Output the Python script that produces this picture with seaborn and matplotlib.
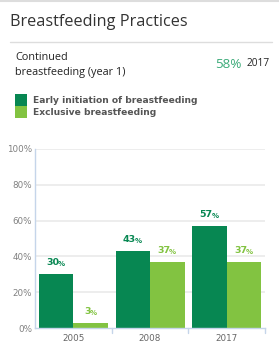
import matplotlib
matplotlib.use("Agg")
import matplotlib.pyplot as plt
import seaborn as sns
import pandas as pd
from matplotlib.patches import Rectangle
from matplotlib.lines import Line2D

years = ["2005", "2008", "2017"]
series = ["Early initiation of breastfeeding", "Exclusive breastfeeding"]
early = [30, 43, 57]
exclusive = [3, 37, 37]
yticks = [0, 20, 40, 60, 80, 100]
title = "Breastfeeding Practices"
ind_label = ["Continued", "breastfeeding (year 1)"]
ind_value = "58%"
ind_year = "2017"

DARK = "#078752"
LIGHT = "#82c341"
colors = [DARK, LIGHT]

df = pd.DataFrame({
    "year": years * 2,
    "value": early + exclusive,
    "series": [series[0]] * 3 + [series[1]] * 3,
})

sns.set_theme(style="white")
plt.rcParams["font.family"] = ["DejaVu Sans"]

W, H = 279, 349
fig = plt.figure(figsize=(W / 100, H / 100), dpi=100)

def fx(px):
    return px / W

def fy(py):
    return 1 - py / H

ax = fig.add_axes([fx(35), fy(328), fx(265) - fx(35), fy(149) - fy(328)])
sns.barplot(data=df, x="year", y="value", hue="series", palette=colors,
            width=0.9, dodge=True, ax=ax, legend=False, saturation=1,
            linewidth=0, edgecolor="none")

ax.set_ylim(0, 100)
ax.set_xlim(-0.5, 2.5)
ax.set_yticks(yticks)
ax.set_yticklabels([f"{v}%" for v in yticks], color="#808080", fontsize=6.3)
ax.set_xticks(range(len(years)))
ax.set_xticklabels(years, color="#666666", fontsize=6.3)
ax.tick_params(axis="y", length=0, pad=2)
ax.tick_params(axis="x", length=0, pad=4)
ax.set_xlabel("")
ax.set_ylabel("")
for y in yticks[1:]:
    ax.axhline(y, color="#ececec", lw=1.3, zorder=0)
for s in ["top", "right"]:
    ax.spines[s].set_visible(False)
for s in ["left", "bottom"]:
    ax.spines[s].set_color("#c5d5ea")
    ax.spines[s].set_linewidth(1.0)
# category boundary ticks
for b in [0.5, 1.5, 2.5]:
    ax.plot([b, b], [0, -3], color="#c5d5ea", lw=1.0, clip_on=False)

# value labels
for cont, vals, col in zip(ax.containers, [early, exclusive], colors):
    for bar, v in zip(cont, vals):
        xc = bar.get_x() + bar.get_width() / 2
        t = ax.annotate(f"{v}", xy=(xc, v), xytext=(-2.3, 5), textcoords="offset points",
                        ha="center", va="bottom", fontsize=6.8, fontweight="bold", color=col)
        ax.annotate("%", xy=(1, 0), xycoords=t, xytext=(-1.0, 0), textcoords="offset points",
                    ha="left", va="bottom", fontsize=5, fontweight="bold", color=col)

# header
fig.add_artist(Line2D([0, 1], [fy(1), fy(1)], color="#dddddd", lw=1.5))
fig.text(fx(10), fy(22), title, fontsize=11.7, color="#333333", family="Open Sans",
         ha="left", va="center")
fig.add_artist(Line2D([fx(10), fx(272)], [fy(42), fy(42)], color="#dddddd", lw=1))
fig.text(fx(15), fy(57), ind_label[0], fontsize=7.8, color="#222222", family="Open Sans",
         ha="left", va="center")
fig.text(fx(15), fy(72), ind_label[1], fontsize=7.8, color="#222222", family="Open Sans",
         ha="left", va="center")
fig.text(fx(241), fy(64), ind_value, fontsize=9.6, color="#3aaa78", family="Open Sans",
         ha="right", va="center")
fig.text(fx(247), fy(64), ind_year, fontsize=7.3, color="#222222", family="Open Sans",
         ha="left", va="center")

# legend
for i, (name, col) in enumerate(zip(series, colors)):
    top = 94 + 12 * i
    fig.add_artist(Rectangle((fx(15), fy(top + 12)), fx(12), fy(top) - fy(top + 12),
                             facecolor=col, edgecolor="none", transform=fig.transFigure))
    fig.text(fx(33), fy(top + 6.5), name, fontsize=6.6, fontweight="bold", color="#555555",
             ha="left", va="center")

fig.savefig("out.png", dpi=100)
